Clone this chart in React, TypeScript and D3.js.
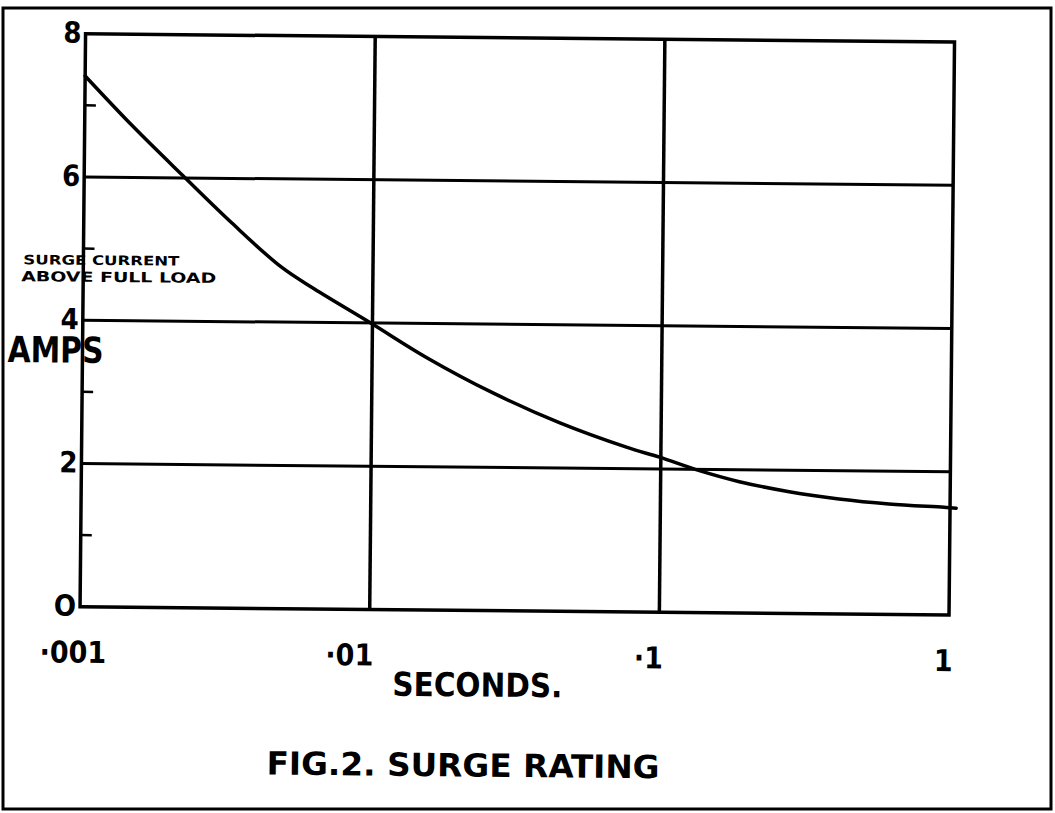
import React from "react";
import * as d3 from "d3";

// values
const seconds = [0.001, 0.00147, 0.00218, 0.00324, 0.00482, 0.00627, 0.00986, 0.0155, 0.0262, 0.0447, 0.076, 0.0989, 0.136, 0.187, 0.278, 0.413, 0.615, 0.953, 1.05];
const amps = [7.41, 6.71, 6.04, 5.38, 4.77, 4.47, 4.0, 3.52, 3.04, 2.63, 2.3, 2.165, 1.983, 1.834, 1.701, 1.606, 1.543, 1.504, 1.493];

const xTicks = [0.001, 0.01, 0.1, 1];
const xTickLabels = ["·001", "·01", "·1", "1"];
const yTicks = [0, 2, 4, 6, 8];
const yTickLabels = ["O", "2", "4", "6", "8"];
const yMinorTicks = [1, 3, 5, 7];

const W = 1055;
const H = 813;
const margin = { top: 38, right: 104, bottom: 202, left: 82 };
const FONT = "'DejaVu Sans Condensed', 'Liberation Sans Narrow', sans-serif";

const App = () => {
  const innerW = W - margin.left - margin.right;
  const innerH = H - margin.top - margin.bottom;

  const x = d3.scaleLog().domain([0.001, 1]).range([0, innerW]);
  const y = d3.scaleLinear().domain([0, 8]).range([innerH, 0]);

  const line = d3
    .line<number>()
    .x((d, i) => x(seconds[i]))
    .y((d) => y(d))
    .curve(d3.curveCatmullRom.alpha(0.5));

  return (
    <svg
      width={W}
      height={H}
      style={{ position: "absolute", left: 0, top: 0, background: "#fff" }}
    >
      {/* outer frame of the scan */}
      <rect x={3} y={8} width={1048} height={801} fill="none" stroke="#000" strokeWidth={3} />

      {/* the scan sits slightly tilted */}
      <g transform={`rotate(0.55 ${W / 2} ${H / 2})`}>
        <g transform={`translate(${margin.left},${margin.top})`}>
          {/* horizontal grid lines */}
          {yTicks.slice(1, -1).map((t) => (
            <line key={"h" + t} x1={0} x2={innerW} y1={y(t)} y2={y(t)} stroke="#000" strokeWidth={3} />
          ))}
          {/* vertical grid lines */}
          {xTicks.slice(1, -1).map((t) => (
            <line key={"v" + t} x1={x(t)} x2={x(t)} y1={0} y2={innerH} stroke="#000" strokeWidth={3.5} />
          ))}
          {/* axes box */}
          <rect x={0} y={0} width={innerW} height={innerH} fill="none" stroke="#000" strokeWidth={3.5} />

          {/* minor ticks on the left axis */}
          {yMinorTicks.map((t) => (
            <line key={"m" + t} x1={0} x2={11} y1={y(t)} y2={y(t)} stroke="#000" strokeWidth={2.5} />
          ))}

          {/* curve */}
          <path d={line(amps) || ""} fill="none" stroke="#000" strokeWidth={3.5} strokeLinecap="round" />

          {/* y tick labels */}
          {yTicks.map((t, i) => (
            <text
              key={"yl" + t}
              x={-4}
              y={y(t) + 9}
              textAnchor="end"
              fontFamily={FONT}
              fontWeight="bold"
              fontSize={29}
            >
              {yTickLabels[i]}
            </text>
          ))}

          {/* x tick labels */}
          {xTicks.map((t, i) => (
            <text
              key={"xl" + t}
              x={i === 0 ? x(t) - 40 : x(t) + 4}
              y={innerH + 56}
              textAnchor={i === 0 ? "start" : "end"}
              fontFamily={FONT}
              fontWeight="bold"
              fontSize={30}
            >
              {xTickLabels[i]}
            </text>
          ))}
        </g>

        {/* axis titles */}
        <text x={7} y={367} fontFamily={FONT} fontWeight="bold" fontSize={36} textLength={96} lengthAdjust="spacingAndGlyphs">
          AMPS
        </text>
        <text x={22} y={269} fontFamily={FONT} fontWeight="bold" fontSize={13} textLength={156} lengthAdjust="spacingAndGlyphs">
          SURGE  CURRENT
        </text>
        <text x={20} y={286} fontFamily={FONT} fontWeight="bold" fontSize={14} textLength={195} lengthAdjust="spacingAndGlyphs">
          ABOVE  FULL  LOAD
        </text>
        <text x={395} y={697} fontFamily={FONT} fontWeight="bold" fontSize={33} textLength={170} lengthAdjust="spacingAndGlyphs">
          SECONDS.
        </text>
        <text x={270} y={777} fontFamily={FONT} fontWeight="bold" fontSize={32} textLength={393} lengthAdjust="spacingAndGlyphs">
          FIG.2.  SURGE  RATING
        </text>
      </g>
    </svg>
  );
};

export default App;
